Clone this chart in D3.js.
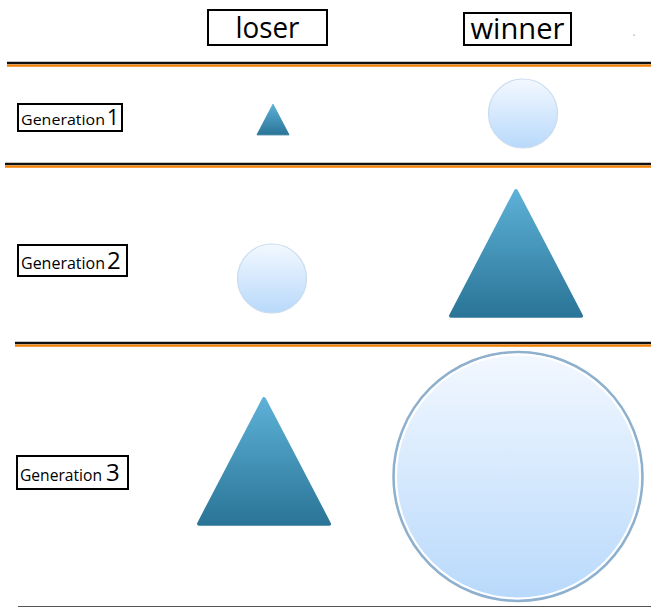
<!DOCTYPE html>
<html>
<head>
<meta charset="utf-8">
<script src="https://cdn.jsdelivr.net/npm/d3@7"></script>
<style>
  body { margin: 0; background: #fff; }
  svg { display: block; }
</style>
</head>
<body>
<div id="chart"></div>
<script>
// outcome columns and generation rows
var outcomes = ["loser", "winner"];
var generations = ["1", "2", "3"];
// shape in each cell, and its size (triangle base / circle diameter, px-units)
var loserShapes = ["triangle", "circle", "triangle"];
var loserSizes = [33, 70, 134];
var winnerShapes = ["circle", "triangle", "circle"];
var winnerSizes = [70, 134, 250];

var width = 651, height = 608;

var svg = d3.select("#chart").append("svg")
    .attr("width", width)
    .attr("height", height);

var defs = svg.append("defs");
var cg = defs.append("linearGradient").attr("id", "circGrad")
    .attr("x1", 0).attr("y1", 0).attr("x2", 0).attr("y2", 1);
cg.append("stop").attr("offset", "0%").attr("stop-color", "#f3f8ff");
cg.append("stop").attr("offset", "100%").attr("stop-color", "#b8d9fb");
var tg = defs.append("linearGradient").attr("id", "triGrad")
    .attr("x1", 0).attr("y1", 0).attr("x2", 0).attr("y2", 1);
tg.append("stop").attr("offset", "0%").attr("stop-color", "#5db0d6");
tg.append("stop").attr("offset", "100%").attr("stop-color", "#2a7598");

// layout: row boundaries (separator lines) and column centres
var rowEdges = [65, 166, 345, 606];
var x = d3.scalePoint().domain(outcomes).range([268, 518]);
var size = d3.scaleLinear().domain([0, 250]).range([0, 250]);

// separators between rows
var sepStart = [7, 5, 15];
rowEdges.slice(0, 3).forEach(function(y, i) {
  svg.append("line")
      .attr("x1", sepStart[i]).attr("x2", width)
      .attr("y1", y - 2).attr("y2", y - 2)
      .attr("stroke", "#111").attr("stroke-width", 2.6);
  svg.append("line")
      .attr("x1", sepStart[i]).attr("x2", width)
      .attr("y1", y + 0.6).attr("y2", y + 0.6)
      .attr("stroke", "#f57f00").attr("stroke-width", 2.4);
});
svg.append("line")
    .attr("x1", 18).attr("x2", width)
    .attr("y1", 606.5).attr("y2", 606.5)
    .attr("stroke", "#555").attr("stroke-width", 1);

// column headers
var headBox = {loser: [208, 10, 119, 35, 64], winner: [464, 13, 107, 32, 94]};
outcomes.forEach(function(o) {
  var b = headBox[o];
  svg.append("rect")
      .attr("x", b[0]).attr("y", b[1]).attr("width", b[2]).attr("height", b[3])
      .attr("fill", "#fff").attr("stroke", "#000").attr("stroke-width", 2);
  svg.append("text")
      .attr("x", b[0] + b[2] / 2).attr("y", b[1] + b[3] / 2 + 10)
      .attr("text-anchor", "middle")
      .attr("textLength", b[4]).attr("lengthAdjust", "spacingAndGlyphs")
      .style("font-family", "'Open Sans', sans-serif")
      .style("font-size", "29px")
      .text(o);
});
svg.append("circle").attr("cx", 634).attr("cy", 35).attr("r", 0.6).attr("fill", "#555");

// generation labels: box x, y, w, h, word size, digit size, word length
var labelBox = [[18, 104, 104, 27, 15, 21, 84], [18, 245, 109, 31, 16, 24, 84], [17, 456, 111, 33, 16, 24, 82]];
generations.forEach(function(g, i) {
  var b = labelBox[i];
  svg.append("rect")
      .attr("x", b[0]).attr("y", b[1]).attr("width", b[2]).attr("height", b[3])
      .attr("fill", "#fff").attr("stroke", "#000").attr("stroke-width", 2);
  var yb = b[1] + b[3] / 2 + b[5] * 0.34;
  svg.append("text")
      .attr("x", b[0] + 3).attr("y", yb)
      .attr("textLength", b[6]).attr("lengthAdjust", "spacingAndGlyphs")
      .style("font-family", "'Open Sans', sans-serif")
      .style("font-size", b[4] + "px")
      .text("Generation");
  svg.append("text")
      .attr("x", b[0] + 3 + b[6] + (i === 2 ? 4 : 2)).attr("y", yb)
      .style("font-family", "'Open Sans', sans-serif")
      .style("font-size", b[5] + "px")
      .text(g);
});

// cell marks
var cells = [];
generations.forEach(function(g, i) {
  cells.push({gen: i, outcome: "loser", shape: loserShapes[i], size: loserSizes[i]});
  cells.push({gen: i, outcome: "winner", shape: winnerShapes[i], size: winnerSizes[i]});
});
// small per-cell nudges seen in the original layout
var nudge = {"0loser": 4, "0winner": -2, "1loser": 23, "1winner": -2, "2loser": -14, "2winner": 1};
var xNudge = {"0loser": 5, "0winner": 5, "1loser": 4, "1winner": -2, "2loser": -4, "2winner": 0};

function cy(d) {
  return (rowEdges[d.gen] + rowEdges[d.gen + 1]) / 2 + nudge[d.gen + d.outcome];
}
function cx(d) { return x(d.outcome) + xNudge[d.gen + d.outcome]; }

var marks = svg.append("g");
marks.selectAll(".circ")
    .data(cells.filter(function(d) { return d.shape === "circle"; }))
  .enter().append("circle")
    .attr("class", "circ")
    .attr("cx", cx).attr("cy", cy)
    .attr("r", function(d) { return size(d.size) / 2 - 0.5; })
    .attr("fill", "url(#circGrad)")
    .attr("stroke", function(d) { return d.size > 200 ? "#8fb0cc" : "#c9dbee"; })
    .attr("stroke-width", function(d) { return d.size > 200 ? 2.5 : 1.2; });
marks.selectAll(".ring")
    .data(cells.filter(function(d) { return d.shape === "circle" && d.size > 200; }))
  .enter().append("circle")
    .attr("class", "ring")
    .attr("cx", cx).attr("cy", cy)
    .attr("r", function(d) { return size(d.size) / 2 - 3; })
    .attr("fill", "none")
    .attr("stroke", "#fff").attr("stroke-width", 2);

marks.selectAll(".tri")
    .data(cells.filter(function(d) { return d.shape === "triangle"; }))
  .enter().append("path")
    .attr("class", "tri")
    .attr("d", function(d) {
      var w = size(d.size), h = w * 0.96, r = w > 100 ? 2 : 0.5;
      var x0 = cx(d), y0 = cy(d);
      return "M" + x0 + "," + (y0 - h / 2 + r) +
             "L" + (x0 + w / 2 - r) + "," + (y0 + h / 2 - r) +
             "L" + (x0 - w / 2 + r) + "," + (y0 + h / 2 - r) + "Z";
    })
    .attr("fill", "url(#triGrad)")
    .attr("stroke", "url(#triGrad)")
    .attr("stroke-width", function(d) { return d.size > 100 ? 4 : 1; })
    .attr("stroke-linejoin", "round");
</script>
</body>
</html>
